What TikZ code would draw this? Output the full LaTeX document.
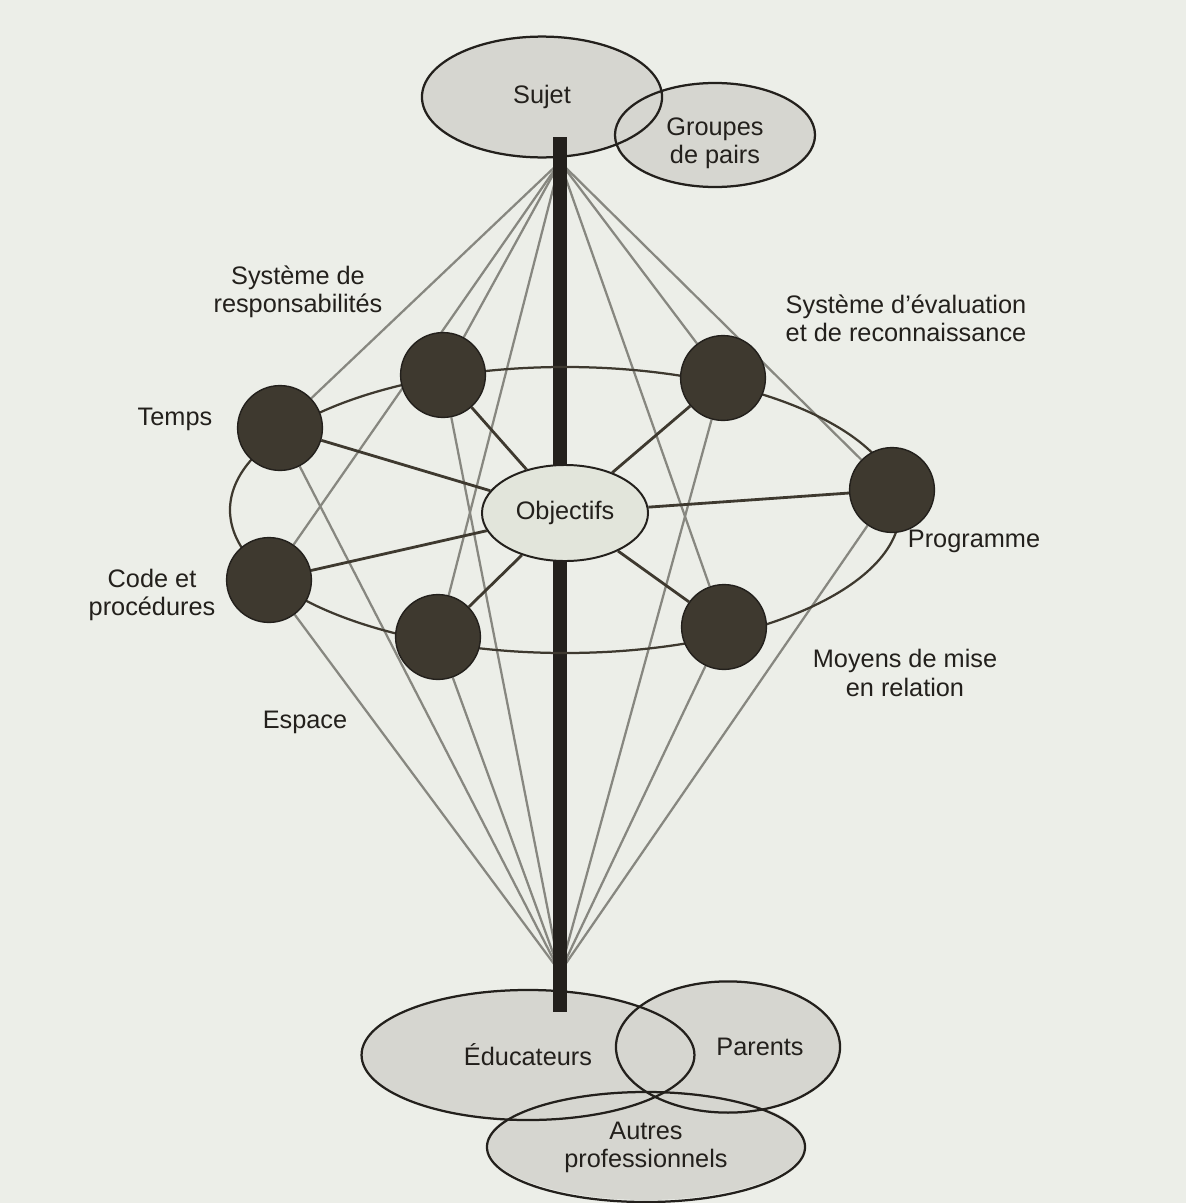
\documentclass[tikz,border=0pt]{standalone}
\usepackage{fontspec}
\setmainfont{Liberation Sans}
\usetikzlibrary{shapes.geometric, backgrounds}
\definecolor{paper}{RGB}{236,238,232}
\definecolor{blobgray}{RGB}{214,214,208}
\definecolor{objgray}{RGB}{226,229,219}
\definecolor{discbrown}{RGB}{62,57,47}
\definecolor{raygray}{RGB}{135,135,128}
\definecolor{ink}{RGB}{35,32,28}

\begin{document}
\begin{tikzpicture}[x=0.025cm, y=-0.025cm,
    every node/.style={font=\fontsize{18}{20}\selectfont, text=ink},
    disc/.style={circle, fill=discbrown, draw=ink, line width=1pt, minimum size=2.12cm, inner sep=0pt},
    goal/.style={ellipse, fill=objgray, draw=ink, line width=1.4pt, minimum width=4.15cm, minimum height=2.4cm, inner sep=0pt},
    rim/.style={ellipse, draw=ink, line width=1.6pt, inner sep=0pt, align=center},
    ray/.style={raygray, line width=1.6pt},
    spoke/.style={discbrown, line width=2pt},
    lbl/.style={align=center}]

    % the seven discs round the objectives
    \node[disc] (temps) at (280,428) {};
    \node[disc] (resp) at (443,375) {};
    \node[disc] (eval) at (723,378) {};
    \node[disc] (prog) at (892,490) {};
    \node[disc] (moyens) at (724,627) {};
    \node[disc] (espace) at (438,637) {};
    \node[disc] (code) at (269,580) {};
    \node[goal] (obj) at (565,513) {Objectifs};

    \node[lbl] (resp-lbl) at (298,292) {Système de\\responsabilités};
    \node (temps-lbl) at (175,419) {Temps};
    \node[lbl] (code-lbl) at (152,595) {Code et\\procédures};
    \node (espace-lbl) at (305,722) {Espace};
    \node[lbl] (eval-lbl) at (906,318) {Système d’évaluation\\et de reconnaissance};
    \node (prog-lbl) at (974,541) {Programme};
    \node[lbl] (moyens-lbl) at (905,673) {Moyens de mise\\en relation};

    \begin{scope}[on background layer]
        \fill[paper] (0,0) rectangle (1186,1203);
        \useasboundingbox (0,0) rectangle (1186,1203);
        % groups, filled first so that every rim stays visible
        \fill[blobgray] (542,97) ellipse [x radius=120, y radius=60]
            (715,135) ellipse [x radius=100, y radius=52]
            (528,1055) ellipse [x radius=166, y radius=65]
            (728,1047) ellipse [x radius=112, y radius=65]
            (646,1145) ellipse [x radius=159, y radius=55];
        \node[rim, minimum width=6cm, minimum height=3.02cm] (sujet) at (542,97) {Sujet};
        \node[rim, minimum width=5cm, minimum height=2.6cm, label={[align=center, yshift=-0.2cm]center:{Groupes\\de pairs}}] (pairs) at (715,135) {};
        \node[rim, minimum width=8.32cm, minimum height=3.25cm] (educ) at (528,1055) {Éducateurs};
        \node[rim, minimum width=5.6cm, minimum height=3.28cm, label={[xshift=0.8cm]center:Parents}] (parents) at (728,1047) {};
        \node[rim, minimum width=7.95cm, minimum height=2.75cm] (autres) at (646,1147) {Autres\\professionnels};

        \coordinate (apex-top) at (560,162);
        \coordinate (apex-bot) at (560,972);
        \foreach \c in {temps,resp,eval,prog,moyens,espace,code}
            \draw[ray] (apex-top) -- (\c) (apex-bot) -- (\c);

        \coordinate (bar-top) at (560,137);
        \coordinate (bar-bot) at (560,1012);
        \draw[ink, line width=0.36cm] (bar-top) -- (bar-bot);

        \draw[spoke, line width=1.6pt] (565,510) ellipse [x radius=335, y radius=143];
        \foreach \c in {temps,resp,eval,prog,moyens,espace,code}
            \draw[spoke] (obj) -- (\c);
    \end{scope}
\end{tikzpicture}
\end{document}
